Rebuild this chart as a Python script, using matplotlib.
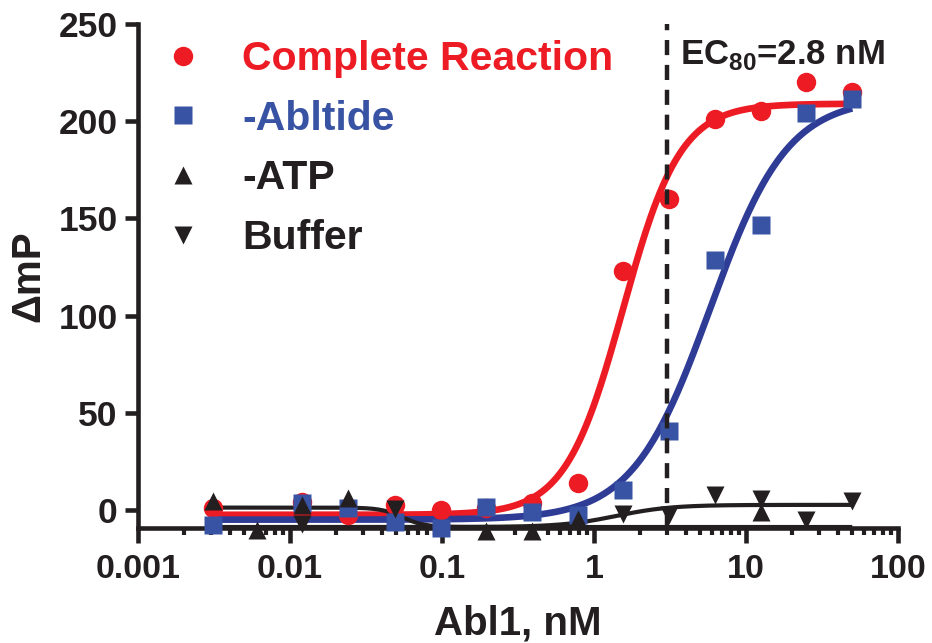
# Abl1 titration, fluorescence polarization response
import matplotlib
matplotlib.use("Agg")
import matplotlib.pyplot as plt
import numpy as np

FIG_WIDTH: float = 9.32  # inches, 932 px at 100 dpi
FIG_HEIGHT: float = 6.43
DPI: int = 100
FONT: str = "Liberation Sans"

RED: str = "#ED1C24"
BLUE_MARKER: str = "#3953A4"
BLUE_LINE: str = "#2E3C96"
BLACK: str = "#231F20"

# Abl1 concentration (nM), 2-fold dilution series
conc = [0.0031, 0.0061, 0.012, 0.024, 0.049, 0.098, 0.195, 0.39, 0.78, 1.56, 3.13, 6.25, 12.5, 25, 50]
nan = float("nan")
complete = [1.0, nan, 4.0, -2.5, 2.5, 0.0, 1.0, 3.6, 14.0, 123.0, 160.0, 201.0, 205.0, 220.0, 215.0]
abltide = [-7.8, nan, 3.6, 1.0, -6.0, -9.5, 1.3, -0.9, -2.6, 10.4, 40.6, 128.7, 146.8, 204.0, 211.6]
no_atp = [4.8, -10.5, 2.6, 6.0, nan, nan, -11.0, -11.0, -4.5, nan, nan, nan, -1.3, nan, nan]
buffer = [nan, nan, -7.0, nan, 0.5, nan, nan, nan, nan, -2.0, -2.5, 7.5, 5.7, -5.2, 4.7]

# fitted 4-parameter logistic curves: (low asymptote, high asymptote, EC50, hill)
fit_complete = (-2.5, 209.0, 1.55, 2.3)
fit_abltide = (-5.0, 212.0, 5.8, 1.7)
fit_no_atp = (1.2, -8.8, 0.055, 6.0)
fit_buffer = (-8.8, 2.6, 1.4, 2.4)

EC80: float = 3.0
EC80_LABEL: str = r"EC$_{\mathbf{80}}$=2.8 nM"

labels = ["Complete Reaction", "-Abltide", "-ATP", "Buffer"]


def logistic(x: np.ndarray, params: tuple) -> np.ndarray:
    low, high, ec50, hill = params
    return low + (high - low) / (1 + 10 ** ((np.log10(ec50) - np.log10(x)) * hill))


plt.rcParams["font.family"] = FONT
plt.rcParams["font.weight"] = "bold"
plt.rcParams["axes.labelweight"] = "bold"
plt.rcParams["mathtext.fontset"] = "custom"
plt.rcParams["mathtext.rm"] = FONT + ":bold"
plt.rcParams["mathtext.bf"] = FONT + ":bold"

fig = plt.figure(figsize=(FIG_WIDTH, FIG_HEIGHT), dpi=DPI)
ax = fig.add_axes([138 / 932, 1 - 528 / 643, 760 / 932, 504 / 643])

xs = np.logspace(np.log10(conc[0]), np.log10(conc[-1]), 400)
ax.plot(xs, logistic(xs, fit_complete), color=RED, lw=4.8, zorder=2, solid_capstyle="butt")
ax.plot(xs, logistic(xs, fit_abltide), color=BLUE_LINE, lw=4.8, zorder=2, solid_capstyle="butt")
ax.plot(xs, logistic(xs, fit_no_atp), color=BLACK, lw=3.0, zorder=2, solid_capstyle="butt")
ax.plot(xs, logistic(xs, fit_buffer), color=BLACK, lw=3.0, zorder=2, solid_capstyle="butt")

handles = []
for values, marker, color, size in [(complete, "o", RED, 14),
                                    (abltide, "s", BLUE_MARKER, 12.5),
                                    (no_atp, "^", BLACK, 13.5),
                                    (buffer, "v", BLACK, 13.5)]:
    h, = ax.plot(conc, values, linestyle="none", marker=marker, ms=size, color=color,
                 mec="none", zorder=3, clip_on=False)
    handles.append(h)

ax.axvline(EC80, color=BLACK, lw=3.2, dashes=(3.4, 2.2), zorder=4)

ax.set_xscale("log")
ax.set_xlim(0.001, 100)
ax.set_ylim(-9.3, 250)
ax.set_yticks([0, 50, 100, 150, 200, 250])
ax.set_xticks([0.001, 0.01, 0.1, 1, 10, 100])
ax.set_xticklabels(["0.001", "0.01", "0.1", "1", "10", "100"])
ax.xaxis.set_minor_locator(matplotlib.ticker.LogLocator(base=10, subs=range(2, 10), numticks=20))
ax.xaxis.set_minor_formatter(matplotlib.ticker.NullFormatter())

for side in ["top", "right"]:
    ax.spines[side].set_visible(False)
for side in ["left", "bottom"]:
    ax.spines[side].set_linewidth(3.3)
    ax.spines[side].set_color(BLACK)

ax.tick_params(axis="x", which="major", length=10.5, width=3.3, labelsize=24.5, pad=8, color=BLACK)
ax.tick_params(axis="x", which="minor", length=5, width=3.0, color=BLACK)
ax.tick_params(axis="y", which="major", length=9.5, width=3.3, labelsize=25.5, pad=5, color=BLACK)
ax.tick_params(labelcolor=BLACK)

ax.set_xlabel("Abl1, nM", fontsize=29, color=BLACK, labelpad=14)
ax.set_ylabel("ΔmP", fontsize=29, color=BLACK, labelpad=8)

fig.legend(handles, labels, loc="upper left", bbox_to_anchor=(163 / 932, 1 - 40 / 643),
           frameon=False, fontsize=29.5, handlelength=1.0, handletextpad=0.93,
           labelspacing=0.53, borderpad=0, borderaxespad=0, numpoints=1,
           labelcolor=[RED, BLUE_MARKER, BLACK, BLACK])

fig.text(680 / 932, 1 - 64 / 643, EC80_LABEL, fontsize=25, color=BLACK, va="baseline")

fig.savefig("out.png", dpi=DPI)
